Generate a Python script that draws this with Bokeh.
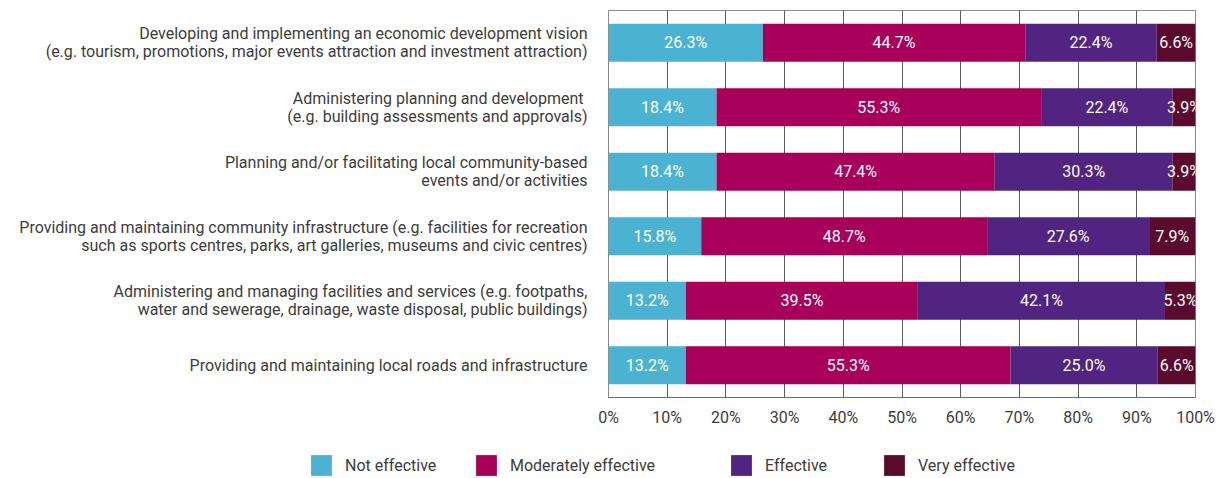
from bokeh.plotting import figure
from bokeh.layouts import column, row
from bokeh.models import (ColumnDataSource, FactorRange, Legend, LegendItem, Range1d,
                          FixedTicker)
from bokeh.core.properties import value
from bokeh.embed import file_html
from bokeh.resources import INLINE

categories = [
    "Developing and implementing an economic development vision\n(e.g. tourism, promotions, major events attraction and investment attraction)",
    "Administering  planning and development\n(e.g. building assessments and approvals)",
    "Planning and/or facilitating local community-based\nevents and/or activities",
    "Providing and maintaining community infrastructure (e.g. facilities for recreation\nsuch as sports centres, parks, art galleries, museums and civic centres)",
    "Administering and managing facilities and services (e.g. footpaths,\nwater and sewerage, drainage, waste disposal, public buildings)",
    "Providing and maintaining local roads and infrastructure",
]
not_effective = [26.3, 18.4, 18.4, 15.8, 13.2, 13.2]
moderately_effective = [44.7, 55.3, 47.4, 48.7, 39.5, 55.3]
effective = [22.4, 22.4, 30.3, 27.6, 42.1, 25.0]
very_effective = [6.6, 3.9, 3.9, 7.9, 5.3, 6.6]
series_names = ["Not effective", "Moderately effective", "Effective", "Very effective"]
series_keys = ["not_eff", "mod_eff", "eff", "very_eff"]
colors = ["#4bb3d1", "#a8005a", "#512481", "#5a0a2d"]
tick_values = [0, 10, 20, 30, 40, 50, 60, 70, 80, 90, 100]

FONT = "Roboto"
TXT = "#3c3c3c"

data = dict(cat=categories, not_eff=not_effective, mod_eff=moderately_effective,
            eff=effective, very_eff=very_effective)
source = ColumnDataSource(data)

p = figure(width=1223, height=430,
           y_range=FactorRange(*reversed(categories)), x_range=Range1d(0, 100),
           output_backend="svg", toolbar_location=None,
           min_border_left=608, min_border_right=28, min_border_top=10, min_border_bottom=33)
p.outline_line_color = "#8a8a8a"

renderers = p.hbar_stack(series_keys, y="cat", height=0.59, color=colors,
                         line_color=None, source=source)

# value labels
series = [not_effective, moderately_effective, effective, very_effective]
lab_x, lab_y, lab_t = [], [], []
for i, cat in enumerate(categories):
    left = 0.0
    for s in series:
        v = s[i]
        lab_x.append(left + v / 2)
        lab_y.append(cat)
        lab_t.append(f"{v:.1f}%")
        left += v
p.text(x=lab_x, y=lab_y, text=lab_t, text_color="white", text_align="center",
       text_baseline="middle", text_font=value(FONT), text_font_size="16px")

# axes
p.xaxis.ticker = FixedTicker(ticks=tick_values)
p.xaxis.major_label_overrides = {t: f"{t}%" for t in tick_values}
p.xaxis.axis_line_color = "#6a6a6a"
p.xaxis.major_tick_line_color = None
p.xaxis.minor_tick_line_color = None
p.xaxis.major_label_text_font = FONT
p.xaxis.major_label_text_font_size = "16px"
p.xaxis.major_label_text_color = TXT
p.xaxis.major_label_standoff = 4

p.yaxis.axis_line_color = None
p.yaxis.major_tick_line_color = None
p.yaxis.minor_tick_line_color = None
p.yaxis.major_label_text_font = FONT
p.yaxis.major_label_text_font_size = "16px"
p.yaxis.major_label_text_color = TXT
p.yaxis.major_label_standoff = 15
p.yaxis.major_label_text_align = "right"
p.yaxis.major_label_text_line_height = 0.95

p.xgrid.ticker = FixedTicker(ticks=tick_values)
p.xgrid.grid_line_color = "#5a5a5a"
p.ygrid.grid_line_color = None

# legend strip below the chart (own figure, wrapped in a row)
lg = figure(width=1223, height=48, x_range=Range1d(0, 1), y_range=Range1d(0, 1),
            x_axis_type=None, y_axis_type=None, output_backend="svg",
            toolbar_location=None, min_border_left=0, min_border_right=0,
            min_border_top=0, min_border_bottom=0)
lg.outline_line_color = None
lg.grid.grid_line_color = None
swatch_src = ColumnDataSource(dict(y=[0.5], right=[0.0]))
swatches = [lg.hbar(y="y", right="right", height=0.0, color=c, line_color=None,
                    source=swatch_src) for c in colors]
offsets = [308, 473, 728, 881]
for name, r, off in zip(series_names, swatches, offsets):
    leg = Legend(items=[LegendItem(label=name, renderers=[r])], location=(off, 0),
                 orientation="horizontal", glyph_width=26, glyph_height=26,
                 label_standoff=11, padding=0, margin=0, border_line_color=None,
                 background_fill_alpha=0, label_text_font=FONT,
                 label_text_font_size="16px", label_text_color=TXT)
    lg.add_layout(leg, "center")

layout = column(p, row(lg), spacing=0)
open("out.html", "w").write(file_html(layout, INLINE))
